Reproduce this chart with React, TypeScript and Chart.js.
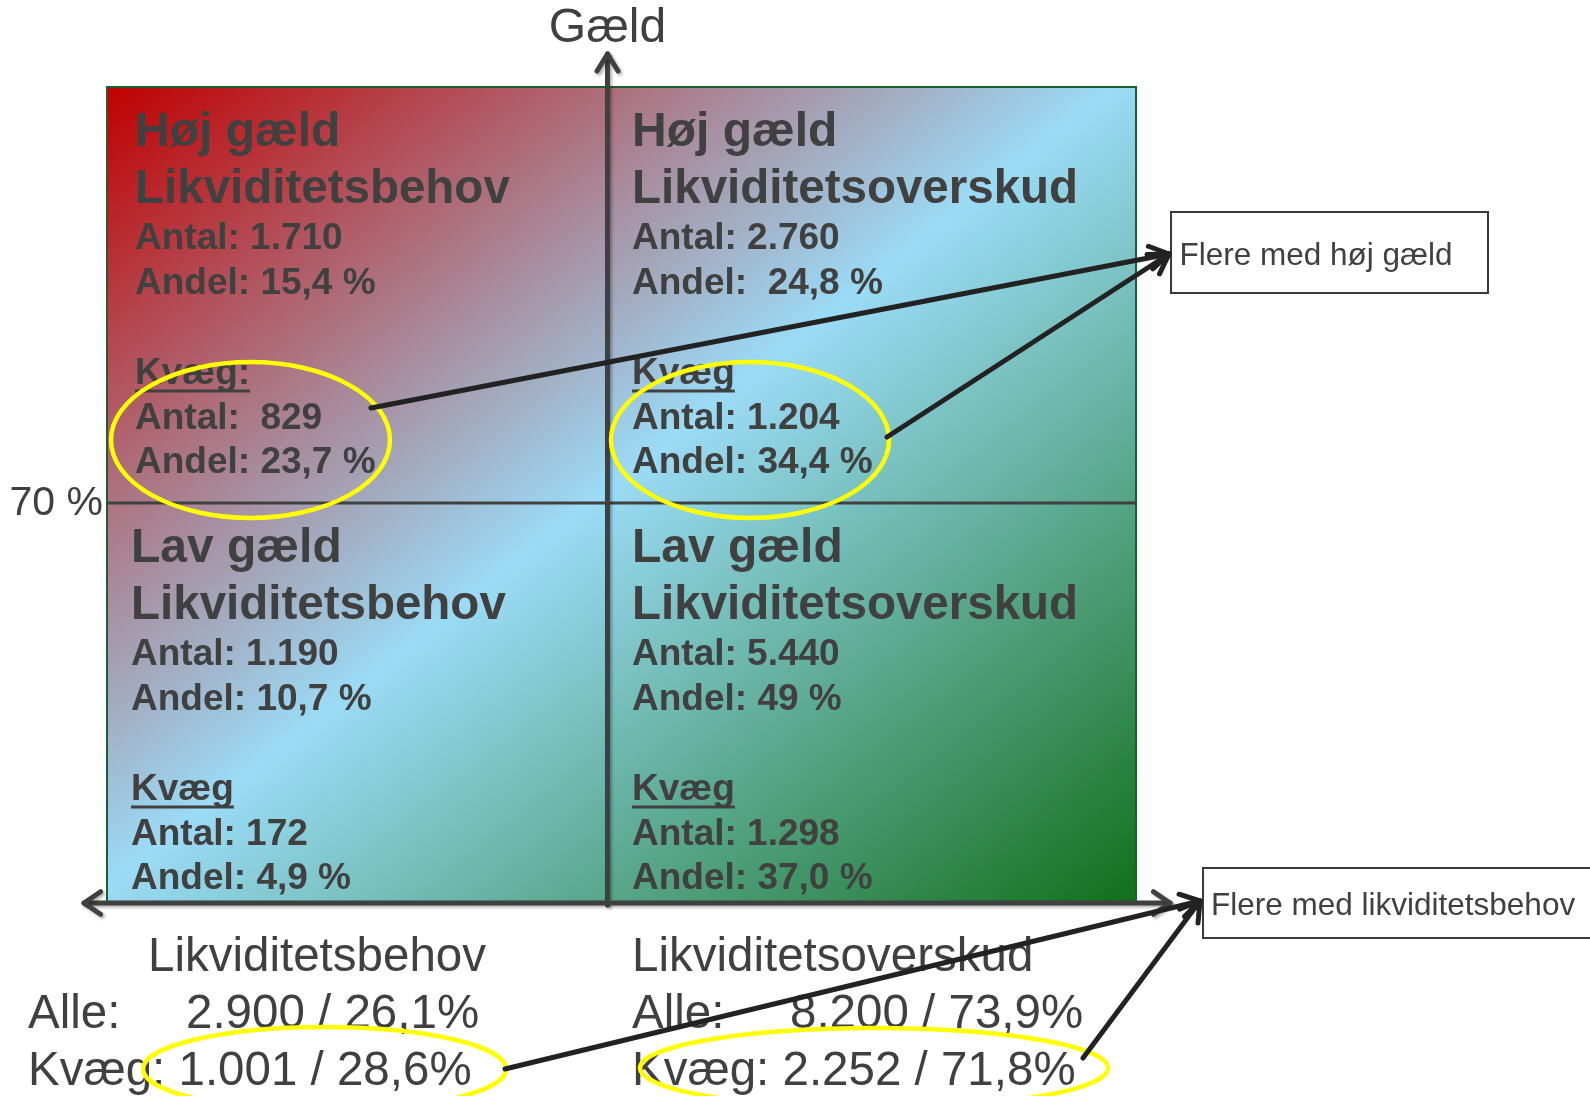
import { useEffect, useRef } from "react";
import { Chart, registerables } from "chart.js";

Chart.register(...registerables);

// ---------- data ----------
const gaeldNiveau = ["Høj gæld", "Høj gæld", "Lav gæld", "Lav gæld"];
const likviditetType = ["Likviditetsbehov", "Likviditetsoverskud", "Likviditetsbehov", "Likviditetsoverskud"];
const antalAlle = ["1.710", "2.760", "1.190", "5.440"];
const andelAlle = ["15,4 %", " 24,8 %", "10,7 %", "49 %"];
const kvaegOverskrift = ["Kvæg:", "Kvæg", "Kvæg", "Kvæg"];
const antalKvaeg = [" 829", "1.204", "172", "1.298"];
const andelKvaeg = ["23,7 %", "34,4 %", "4,9 %", "37,0 %"];
const kolonneTitler = ["Likviditetsbehov", "Likviditetsoverskud"];
const alleTotal = ["2.900 / 26,1%", "8.200 / 73,9%"];
const kvaegTotal = ["1.001 / 28,6%", "2.252 / 71,8%"];
const gaeldGraense = 70; // y threshold tick
const gaeldTickLabels = ["70 %"];
const likviditetGraense = 0; // x threshold
const aksetitel = "Gæld";
const boksTekster = ["Flere med høj gæld", "Flere med likviditetsbehov"];

// ---------- styles ----------
const FONT = '"Liberation Sans", Arial, Helvetica, sans-serif';
const TEXT = "#404040";
const AXIS = "#404040";
const ARROW = "#222222";
const YELLOW = "#FFFF00";

const W = 1590;
const H = 1096;

function font(size: number, bold = false) {
  return `${bold ? "bold " : ""}${size}px ${FONT}`;
}

function drawHead(ctx: CanvasRenderingContext2D, x1: number, y1: number, x2: number, y2: number, head: number, ang: number) {
  const a = Math.atan2(y2 - y1, x2 - x1);
  ctx.beginPath();
  ctx.moveTo(x2 - head * Math.cos(a - ang), y2 - head * Math.sin(a - ang));
  ctx.lineTo(x2, y2);
  ctx.lineTo(x2 - head * Math.cos(a + ang), y2 - head * Math.sin(a + ang));
  ctx.stroke();
}

function drawArrow(ctx: CanvasRenderingContext2D, x1: number, y1: number, x2: number, y2: number, head: number, ang: number) {
  ctx.beginPath();
  ctx.moveTo(x1, y1);
  ctx.lineTo(x2, y2);
  ctx.stroke();
  drawHead(ctx, x1, y1, x2, y2, head, ang);
}

function ellipse(ctx: CanvasRenderingContext2D, cx: number, cy: number, rx: number, ry: number) {
  ctx.beginPath();
  ctx.ellipse(cx, cy, rx, ry, 0, 0, Math.PI * 2);
  ctx.stroke();
}

const quadrantPlugin = {
  id: "quadrantPlugin",
  beforeDraw(chart: any) {
    const { ctx, chartArea: a } = chart;
    ctx.save();
    ctx.translate(a.left, a.top);
    ctx.scale(a.right - a.left, a.bottom - a.top);
    const g = ctx.createLinearGradient(0, 0, 1, 1);
    g.addColorStop(0, "#C00000");
    g.addColorStop(0.49, "#9BDBF6");
    g.addColorStop(1, "#126F1A");
    ctx.fillStyle = g;
    ctx.fillRect(0, 0, 1, 1);
    ctx.restore();
    ctx.save();
    ctx.strokeStyle = "#1E5E30";
    ctx.lineWidth = 2;
    ctx.strokeRect(a.left, a.top, a.right - a.left, a.bottom - a.top);
    ctx.restore();
  },
  afterDraw(chart: any) {
    const { ctx, chartArea: a } = chart;
    const xs = chart.scales.x;
    const ys = chart.scales.y;
    const xDiv = xs.getPixelForValue(likviditetGraense);
    const yDiv = ys.getPixelForValue(gaeldGraense);

    // horizontal threshold line
    ctx.save();
    ctx.strokeStyle = AXIS;
    ctx.lineWidth = 3;
    ctx.beginPath();
    ctx.moveTo(a.left, yDiv);
    ctx.lineTo(a.right, yDiv);
    ctx.stroke();
    ctx.restore();

    // axes with arrows
    ctx.save();
    ctx.strokeStyle = AXIS;
    ctx.lineWidth = 5;
    ctx.lineCap = "round";
    ctx.lineJoin = "round";
    ctx.shadowColor = "rgba(0,0,0,0.3)";
    ctx.shadowBlur = 3;
    ctx.shadowOffsetX = 2;
    ctx.shadowOffsetY = 2;
    const axTop = a.top - 33;
    const axL = a.left - 23;
    const axR = a.right + 34;
    drawArrow(ctx, xDiv, a.bottom + 2, xDiv, axTop, 20, 0.55);
    ctx.beginPath();
    ctx.moveTo(axL, a.bottom);
    ctx.lineTo(axR, a.bottom);
    ctx.stroke();
    drawHead(ctx, xDiv, a.bottom, axL, a.bottom, 20, 0.6);
    drawHead(ctx, xDiv, a.bottom, axR, a.bottom, 20, 0.6);
    ctx.restore();

    // axis title
    ctx.save();
    ctx.fillStyle = TEXT;
    ctx.font = font(48);
    ctx.textAlign = "center";
    ctx.textBaseline = "alphabetic";
    ctx.fillText(aksetitel, xDiv, a.top - 45);
    ctx.restore();

    // quadrant texts
    const indents = [28, 24.5, 24, 24.5];
    const rows: [number, number, boolean][] = [
      [48, 58.5, false],
      [47.5, 115.5, false],
      [37, 162, false],
      [37, 207, false],
      [37, 296.5, true],
      [37, 341.5, false],
      [37, 386, false],
    ];
    ctx.save();
    ctx.fillStyle = TEXT;
    ctx.strokeStyle = TEXT;
    ctx.textAlign = "left";
    ctx.textBaseline = "alphabetic";
    for (let i = 0; i < 4; i++) {
      const col = i % 2;
      const row = Math.floor(i / 2);
      const qx = (col === 0 ? a.left : xDiv) + indents[i];
      const qy = row === 0 ? a.top : yDiv;
      const texts = [
        gaeldNiveau[i],
        likviditetType[i],
        "Antal: " + antalAlle[i],
        "Andel: " + andelAlle[i],
        kvaegOverskrift[i],
        "Antal: " + antalKvaeg[i],
        "Andel: " + andelKvaeg[i],
      ];
      texts.forEach((t, k) => {
        const [size, off, underline] = rows[k];
        ctx.font = font(size, true);
        ctx.fillText(t, qx, qy + off);
        if (underline) {
          const w = ctx.measureText(t).width;
          ctx.fillRect(qx, qy + off + 6, w, 3);
        }
      });
    }
    ctx.restore();

    // bottom summary
    ctx.save();
    ctx.fillStyle = TEXT;
    ctx.font = font(47.5);
    ctx.textAlign = "left";
    ctx.textBaseline = "alphabetic";
    const titleX = [a.left + 41, xDiv + 24.5];
    const labelX = [28, xDiv + 24.5];
    const valX = [186, xDiv + 182.5];
    for (let c = 0; c < 2; c++) {
      ctx.fillText(kolonneTitler[c], titleX[c], a.bottom + 68);
      ctx.fillText("Alle:", labelX[c], a.bottom + 125);
      ctx.fillText(alleTotal[c], valX[c], a.bottom + 125);
      ctx.fillText("Kvæg: " + kvaegTotal[c], labelX[c], a.bottom + 182);
    }
    ctx.restore();

    // callout boxes
    ctx.save();
    ctx.strokeStyle = "#3a3a3a";
    ctx.lineWidth = 2;
    ctx.fillStyle = "#ffffff";
    const b1 = { x: a.right + 35, y: a.top + 125, w: 317, h: 81 };
    const b2 = { x: a.right + 67, y: a.bottom - 35, w: 420, h: 70 };
    ctx.fillRect(b1.x, b1.y, b1.w, b1.h);
    ctx.strokeRect(b1.x, b1.y, b1.w, b1.h);
    ctx.fillRect(b2.x, b2.y, b2.w, b2.h);
    ctx.strokeRect(b2.x, b2.y, b2.w, b2.h);
    ctx.fillStyle = TEXT;
    ctx.font = font(31.5);
    ctx.textBaseline = "alphabetic";
    ctx.fillText(boksTekster[0], b1.x + 8.5, b1.y + 53);
    ctx.fillText(boksTekster[1], b2.x + 8, b2.y + 47);
    ctx.restore();

    // yellow ellipses
    ctx.save();
    ctx.strokeStyle = YELLOW;
    ctx.lineWidth = 4.5;
    ellipse(ctx, a.left + 143.5, a.top + 353, 139.5, 78);
    ellipse(ctx, xDiv + 142.5, a.top + 353, 139, 78);
    ellipse(ctx, 324.5, a.bottom + 166, 181.5, 42);
    ellipse(ctx, xDiv + 266.5, a.bottom + 165, 234, 40);
    ctx.restore();

    // black arrows
    ctx.save();
    ctx.strokeStyle = ARROW;
    ctx.lineWidth = 5;
    ctx.lineCap = "round";
    ctx.lineJoin = "round";
    const t1x = b1.x - 2, t1y = a.top + 167;
    drawArrow(ctx, a.left + 264, a.top + 321, t1x, t1y, 22, 0.55);
    drawArrow(ctx, xDiv + 279.5, a.top + 350, t1x, t1y, 22, 0.55);
    const t2x = b2.x - 3, t2y = a.bottom - 2;
    drawArrow(ctx, 505, a.bottom + 166, t2x, t2y, 22, 0.55);
    drawArrow(ctx, xDiv + 475.5, a.bottom + 155, t2x, t2y, 22, 0.55);
    ctx.restore();
  },
};

export default function App() {
  const ref = useRef<HTMLCanvasElement | null>(null);
  useEffect(() => {
    if (!ref.current) return;
    const chart = new Chart(ref.current, {
      type: "scatter",
      data: { datasets: [] },
      options: {
        responsive: false,
        animation: false,
        devicePixelRatio: 1,
        layout: { padding: { left: 0, top: 87, right: W - 1136, bottom: H - 903 } },
        plugins: { legend: { display: false }, tooltip: { enabled: false } },
        scales: {
          x: { type: "linear", display: false, min: -48.64, max: 51.36 },
          y: {
            type: "linear",
            position: "left",
            min: 0,
            max: 142.8,
            grid: { display: false, drawTicks: false },
            border: { display: false },
            afterBuildTicks: (scale: any) => {
              scale.ticks = [{ value: gaeldGraense }];
            },
            afterFit: (scale: any) => {
              scale.width = 107;
            },
            ticks: {
              padding: 4,
              labelOffset: 1,
              color: TEXT,
              font: { family: FONT, size: 41 },
              callback: () => gaeldTickLabels[0],
            },
          },
        },
      },
      plugins: [quadrantPlugin],
    } as any);
    return () => chart.destroy();
  }, []);
  return (
    <div style={{ position: "absolute", left: 0, top: 0, width: W, height: H, background: "#fff" }}>
      <canvas ref={ref} width={W} height={H} style={{ display: "block", width: W, height: H }} />
    </div>
  );
}
